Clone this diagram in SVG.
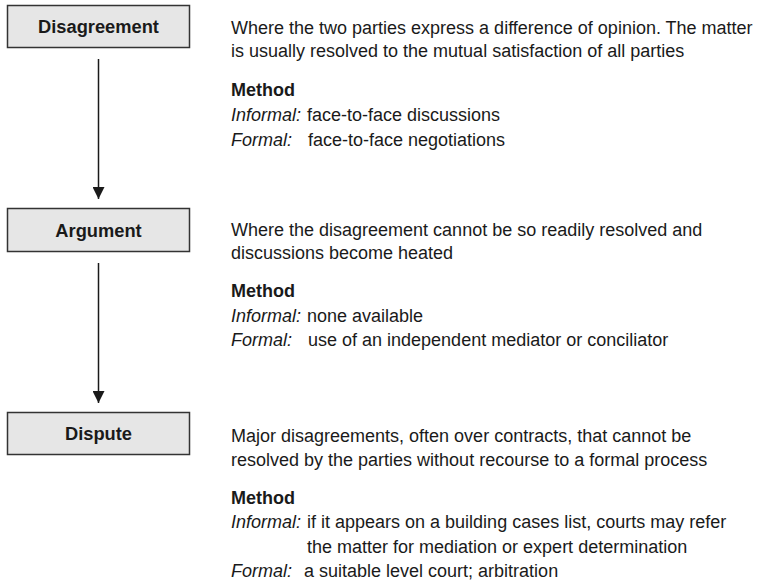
<svg xmlns="http://www.w3.org/2000/svg" width="760" height="584" viewBox="0 0 760 584">
<style>
.box{fill:#e6e6e6;stroke:#333;stroke-width:1.5}
.lbl{font-family:"Liberation Sans",Arial,sans-serif;font-weight:bold;font-size:18.3px;fill:#1a1a1a;text-anchor:middle}
.t{font-family:"Liberation Sans",Arial,sans-serif;font-size:18px;fill:#1a1a1a}
.b{font-weight:bold}
.i{font-style:italic}
.conn{stroke:#1a1a1a;stroke-width:1.5;fill:none}
</style>
<defs>
<marker id="ah" markerWidth="14" markerHeight="12" refX="12" refY="6" orient="auto" markerUnits="userSpaceOnUse">
<path d="M0,0 L12,6 L0,12 Z" fill="#1a1a1a"/>
</marker>
</defs>
<g id="connectors">
<line class="conn" x1="98.5" y1="59" x2="98.5" y2="199" marker-end="url(#ah)"/>
<line class="conn" x1="98.5" y1="263" x2="98.5" y2="403" marker-end="url(#ah)"/>
</g>
<g id="disagreement">
<rect class="box" x="7.5" y="5.5" width="182" height="42"/>
<text class="lbl" x="98.5" y="33">Disagreement</text>
</g>
<g id="disagreement-text" class="t">
<text x="231" y="34">Where the two parties express a difference of opinion. The matter</text>
<text x="231" y="57">is usually resolved to the mutual satisfaction of all parties</text>
<text x="231" y="96" class="b">Method</text>
<text x="231" y="121"><tspan class="i">Informal:</tspan><tspan x="307">face-to-face discussions</tspan></text>
<text x="231" y="146"><tspan class="i">Formal:</tspan><tspan x="308">face-to-face negotiations</tspan></text>
</g>
<g id="argument">
<rect class="box" x="7.5" y="208.5" width="182" height="43"/>
<text class="lbl" x="98.5" y="237">Argument</text>
</g>
<g id="argument-text" class="t">
<text x="231" y="236">Where the disagreement cannot be so readily resolved and</text>
<text x="231" y="259">discussions become heated</text>
<text x="231" y="297" class="b">Method</text>
<text x="231" y="322"><tspan class="i">Informal:</tspan><tspan x="307">none available</tspan></text>
<text x="231" y="346"><tspan class="i">Formal:</tspan><tspan x="308">use of an independent mediator or conciliator</tspan></text>
</g>
<g id="dispute">
<rect class="box" x="7.5" y="412.5" width="182" height="42"/>
<text class="lbl" x="98.5" y="440">Dispute</text>
</g>
<g id="dispute-text" class="t">
<text x="231" y="442">Major disagreements, often over contracts, that cannot be</text>
<text x="231" y="466">resolved by the parties without recourse to a formal process</text>
<text x="231" y="504" class="b">Method</text>
<text x="231" y="528"><tspan class="i">Informal:</tspan><tspan x="307">if it appears on a building cases list, courts may refer</tspan></text>
<text x="307" y="553">the matter for mediation or expert determination</text>
<text x="231" y="577"><tspan class="i">Formal:</tspan><tspan x="304">a suitable level court; arbitration</tspan></text>
</g>
</svg>
